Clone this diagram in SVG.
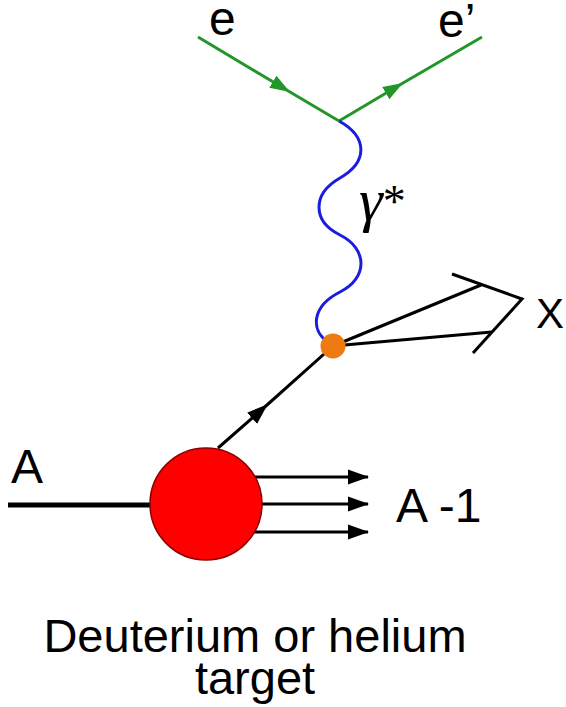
<svg xmlns="http://www.w3.org/2000/svg" width="566" height="707" viewBox="0 0 566 707">
<style>
.lbl{font-family:"Liberation Sans",Arial,sans-serif;fill:#000}
.green{stroke:#23962a;stroke-width:3;fill:none}
.blk{stroke:#000;stroke-width:3;fill:none}
.wave{stroke:#1c1ce0;stroke-width:3;fill:none}
</style>
<defs>
<marker id="gArrow" markerWidth="22" markerHeight="16" refX="20" refY="8" orient="auto" markerUnits="userSpaceOnUse">
<path d="M0,1 L20,8 L0,15 Z" fill="#23962a"/>
</marker>
<marker id="kArrow" markerWidth="22" markerHeight="16" refX="20" refY="8" orient="auto" markerUnits="userSpaceOnUse">
<path d="M0,0.5 L21,8 L0,15.5 Z" fill="#000"/>
</marker>
</defs>
<g id="connectors">
<path id="e-in" class="green" d="M198,37 L290,92 L339,121" marker-mid="url(#gArrow)"/>
<path id="e-out" class="green" d="M339,121 L403,83 L482,37" marker-mid="url(#gArrow)"/>
<path id="photon" class="wave" d="M339,121 C368,137 368,162 340,178 C312,194 312,221 340,235 C368,249 368,278 340,292 C312,306 310,330 328,342"/>
<path id="struck" class="blk" d="M218,448 L267,405 L333,346" stroke-width="2.5" marker-mid="url(#kArrow)"/>
<line id="beam" x1="8" y1="505" x2="152" y2="505" stroke="#000" stroke-width="5"/>
<line class="blk" x1="240" y1="477" x2="368" y2="477" marker-end="url(#kArrow)"/>
<line class="blk" x1="240" y1="504" x2="368" y2="504" marker-end="url(#kArrow)"/>
<line class="blk" x1="240" y1="532" x2="368" y2="532" marker-end="url(#kArrow)"/>
<line class="blk" x1="333" y1="346" x2="481" y2="285"/>
<line class="blk" x1="333" y1="346" x2="492" y2="332"/>
<polyline class="blk" points="452,274 522,299 473,353"/>
</g>
<g id="nucleus">
<circle cx="206" cy="504" r="56" fill="#ff0000" stroke="#8a0000" stroke-width="1.5"/>
</g>
<g id="vertex">
<circle cx="333" cy="346" r="12.5" fill="#ef7a12"/>
</g>
<g id="labels">
<text class="lbl" x="209" y="35" font-size="48">e</text>
<text class="lbl" x="438" y="37" font-size="48">e’</text>
<text x="359" y="220" font-size="60" font-family="'Liberation Serif','Times New Roman',serif" font-style="italic">γ<tspan font-style="normal" font-size="46" dy="-3">*</tspan></text>
<text class="lbl" x="536" y="328" font-size="42">X</text>
<text class="lbl" x="11" y="483" font-size="48">A</text>
<text class="lbl" x="396" y="522" font-size="48">A -1</text>
<text class="lbl" x="255" y="652" font-size="47" text-anchor="middle">Deuterium or helium</text>
<text class="lbl" x="255" y="694" font-size="47" text-anchor="middle">target</text>
</g>
</svg>
